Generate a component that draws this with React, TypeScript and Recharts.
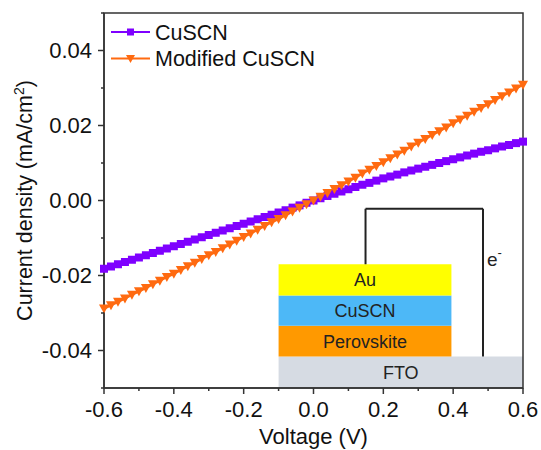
import React from 'react';
import {
  LineChart,
  Line,
  XAxis,
  YAxis,
  Legend,
  Label,
  ReferenceArea,
  ReferenceLine,
} from 'recharts';

const FONT = '"Liberation Sans", Arial, sans-serif';

// bias sweep, 20 mV steps
const voltage = [
  -0.6, -0.58, -0.56, -0.54, -0.52, -0.5, -0.48, -0.46, -0.44, -0.42,
  -0.4, -0.38, -0.36, -0.34, -0.32, -0.3, -0.28, -0.26, -0.24, -0.22,
  -0.2, -0.18, -0.16, -0.14, -0.12, -0.1, -0.08, -0.06, -0.04, -0.02,
  0, 0.02, 0.04, 0.06, 0.08, 0.1, 0.12, 0.14, 0.16, 0.18,
  0.2, 0.22, 0.24, 0.26, 0.28, 0.3, 0.32, 0.34, 0.36, 0.38,
  0.4, 0.42, 0.44, 0.46, 0.48, 0.5, 0.52, 0.54, 0.56, 0.58, 0.6,
];

// current density (mA/cm2), pristine CuSCN
const cuscn = [
  -0.0182, -0.0176, -0.017, -0.0164, -0.0158, -0.0152, -0.0146, -0.014, -0.0134, -0.0128,
  -0.0122, -0.0116, -0.011, -0.0104, -0.0098, -0.0092, -0.0086, -0.008, -0.0074, -0.0068,
  -0.0062, -0.0056, -0.005, -0.0044, -0.0038, -0.0032, -0.0026, -0.0019, -0.0013, -0.0006,
  0.0, 0.0006, 0.0012, 0.0018, 0.0024, 0.003, 0.0036, 0.0042, 0.0047, 0.0053,
  0.0059, 0.0064, 0.0069, 0.0075, 0.008, 0.0085, 0.009, 0.0095, 0.01, 0.0105,
  0.011, 0.0115, 0.012, 0.0125, 0.013, 0.0134, 0.0139, 0.0144, 0.0148, 0.0153, 0.0157,
];

// current density (mA/cm2), modified CuSCN
const modified = [
  -0.0288, -0.0279, -0.027, -0.0261, -0.0251, -0.0242, -0.0233, -0.0223, -0.0214, -0.0204,
  -0.0195, -0.0185, -0.0175, -0.0166, -0.0156, -0.0146, -0.0137, -0.0127, -0.0117, -0.0107,
  -0.0097, -0.0088, -0.0078, -0.0068, -0.0058, -0.0049, -0.0039, -0.0029, -0.0019, -0.001,
  0.0, 0.001, 0.002, 0.0031, 0.0041, 0.0051, 0.0061, 0.0072, 0.0082, 0.0092,
  0.0102, 0.0113, 0.0123, 0.0133, 0.0144, 0.0154, 0.0164, 0.0175, 0.0185, 0.0195,
  0.0206, 0.0216, 0.0226, 0.0237, 0.0247, 0.0257, 0.0268, 0.0278, 0.0288, 0.0299, 0.0309,
];

const xTicks = [-0.6, -0.5, -0.4, -0.3, -0.2, -0.1, 0, 0.1, 0.2, 0.3, 0.4, 0.5, 0.6];
const yTicks = [-0.05, -0.04, -0.03, -0.02, -0.01, 0, 0.01, 0.02, 0.03, 0.04, 0.05];

// device stack in the inset (voltage span, current span)
const layers = [
  { name: 'FTO', x1: -0.1, x2: 0.6, y1: -0.05, y2: -0.0416, color: '#d6dbe3' },
  { name: 'Perovskite', x1: -0.1, x2: 0.395, y1: -0.0416, y2: -0.0334, color: '#ff9900' },
  { name: 'CuSCN', x1: -0.1, x2: 0.395, y1: -0.0334, y2: -0.0253, color: '#4db8f7' },
  { name: 'Au', x1: -0.1, x2: 0.395, y1: -0.0253, y2: -0.017, color: '#ffff00' },
];

const data = voltage.map((v, i) => ({ v, cuscn: cuscn[i], modified: modified[i] }));

const PURPLE = '#7f00ff';
const ORANGE = '#ff6a10';
const AXIS = '#333';

const XTick = (props: any) => {
  const { x, y, payload } = props;
  const v = payload.value;
  const major = Math.round(v * 10) % 2 === 0;
  return (
    <g>
      <line x1={x} y1={y} x2={x} y2={y + (major ? 6 : 3)} stroke={AXIS} strokeWidth={1.5} />
      {major && (
        <text x={x} y={y + 29} textAnchor="middle" fontSize={22} fontFamily={FONT} fill="#111">
          {v.toFixed(1)}
        </text>
      )}
    </g>
  );
};

const YTick = (props: any) => {
  const { x, y, payload } = props;
  const v = payload.value;
  const major = Math.round(v * 100) % 2 === 0;
  return (
    <g>
      <line x1={x} y1={y} x2={x - (major ? 6 : 3)} y2={y} stroke={AXIS} strokeWidth={1.5} />
      {major && (
        <text x={x - 12} y={y + 7.5} textAnchor="end" fontSize={22} fontFamily={FONT} fill="#111">
          {v.toFixed(2)}
        </text>
      )}
    </g>
  );
};

const SquareDot = (props: any) => {
  const { cx, cy } = props;
  if (cx == null || cy == null) return null;
  return <rect x={cx - 4} y={cy - 4} width={8} height={8} fill={PURPLE} />;
};

const TriangleDot = (props: any) => {
  const { cx, cy } = props;
  if (cx == null || cy == null) return null;
  return (
    <polygon
      points={`${cx - 5},${cy - 4} ${cx + 5},${cy - 4} ${cx},${cy + 5}`}
      fill={ORANGE}
    />
  );
};

const renderLegend = () => (
  <svg width={320} height={75} style={{ display: 'block' }}>
    <line x1={6} y1={18} x2={45} y2={18} stroke={PURPLE} strokeWidth={2} />
    <rect x={22} y={14.5} width={7} height={7} fill={PURPLE} />
    <text x={50} y={25.5} fontSize={21.5} fontFamily={FONT} fill="#111">CuSCN</text>
    <line x1={6} y1={44.5} x2={45} y2={44.5} stroke={ORANGE} strokeWidth={2} />
    <polygon points="21,41 30,41 25.5,49" fill={ORANGE} />
    <text x={50} y={52} fontSize={21.5} fontFamily={FONT} fill="#111">Modified CuSCN</text>
  </svg>
);

const renderYLabel = (props: any) => {
  const vb = props.viewBox || {};
  const cy = (vb.y ?? 13) + (vb.height ?? 375) / 2;
  const cx = 32;
  return (
    <text
      x={cx}
      y={cy}
      transform={`rotate(-90, ${cx}, ${cy})`}
      textAnchor="middle"
      fontSize={21.5}
      fontFamily={FONT}
      fill="#111"
    >
      Current density (mA/cm<tspan dy={-8} fontSize={14}>2</tspan>
      <tspan dy={8}>)</tspan>
    </text>
  );
};

const renderXLabel = (props: any) => {
  const vb = props.viewBox || {};
  const cx = (vb.x ?? 104) + (vb.width ?? 419) / 2;
  return (
    <text x={cx} y={444} textAnchor="middle" fontSize={22} fontFamily={FONT} fill="#111">
      Voltage (V)
    </text>
  );
};

const renderElectron = (props: any) => {
  const vb = props.viewBox || {};
  const x = (vb.x ?? 483) + 4;
  const y = 266;
  return (
    <text x={x} y={y} fontSize={19} fontFamily={FONT} fill="#222">
      e<tspan dy={-9} fontSize={13}>-</tspan>
    </text>
  );
};

export default function App() {
  return (
    <div style={{ position: 'absolute', left: 0, top: 0, width: 541, height: 450, background: '#fff' }}>
      <LineChart width={541} height={450} data={data} margin={{ top: 13, right: 18, bottom: 32, left: 0 }}>
        <XAxis
          dataKey="v"
          type="number"
          domain={[-0.6, 0.6]}
          ticks={xTicks}
          interval={0}
          tickSize={0}
          tickMargin={0}
          tick={<XTick />}
          axisLine={{ stroke: AXIS, strokeWidth: 1.5 }}
          height={30}
        >
          <Label content={renderXLabel} />
        </XAxis>
        <YAxis
          type="number"
          domain={[-0.05, 0.05]}
          ticks={yTicks}
          interval={0}
          tickSize={0}
          tickMargin={0}
          tick={<YTick />}
          axisLine={{ stroke: AXIS, strokeWidth: 1.5 }}
          width={104}
        >
          <Label content={renderYLabel} />
        </YAxis>

        {layers.map((l) => (
          <ReferenceArea
            key={l.name}
            x1={l.x1}
            x2={l.x2}
            y1={l.y1}
            y2={l.y2}
            fill={l.color}
            fillOpacity={1}
            stroke="none"
            label={{ value: l.name, position: 'center', fontSize: 18, fill: '#222', fontFamily: FONT }}
          />
        ))}
        <ReferenceLine
          segment={[{ x: 0.149, y: -0.017 }, { x: 0.149, y: -0.0022 }]}
          stroke="#222"
          strokeWidth={2}
        />
        <ReferenceLine
          segment={[{ x: 0.149, y: -0.0022 }, { x: 0.4855, y: -0.0022 }]}
          stroke="#222"
          strokeWidth={2}
        />
        <ReferenceLine
          segment={[{ x: 0.4855, y: -0.0022 }, { x: 0.4855, y: -0.0416 }]}
          stroke="#222"
          strokeWidth={2}
          label={<Label content={renderElectron} />}
        />
        <ReferenceArea
          x1={-0.6}
          x2={0.6}
          y1={-0.05}
          y2={0.05}
          fill="none"
          stroke={AXIS}
          strokeWidth={1.5}
        />

        <Line
          type="linear"
          dataKey="cuscn"
          name="CuSCN"
          stroke={PURPLE}
          strokeWidth={2.5}
          dot={<SquareDot />}
          isAnimationActive={false}
        />
        <Line
          type="linear"
          dataKey="modified"
          name="Modified CuSCN"
          stroke={ORANGE}
          strokeWidth={2.5}
          dot={<TriangleDot />}
          isAnimationActive={false}
        />
        <Legend
          layout="vertical"
          align="center"
          verticalAlign="middle"
          content={renderLegend}
          wrapperStyle={{ left: 105, top: 14, width: 320, height: 75 }}
        />
      </LineChart>
    </div>
  );
}
